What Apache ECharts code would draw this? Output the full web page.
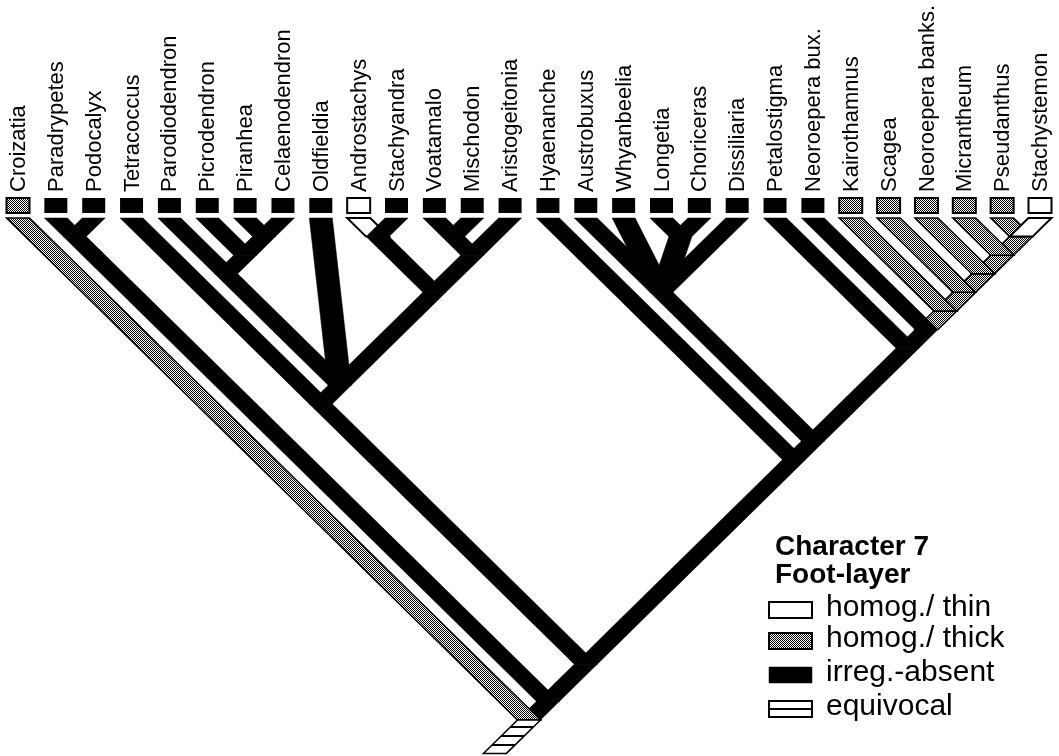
<!DOCTYPE html>
<html>
<head>
<meta charset="utf-8">
<title>Character 7 Foot-layer</title>
<script src="https://cdn.jsdelivr.net/npm/echarts@6/dist/echarts.min.js"></script>
<style>
html, body { margin: 0; padding: 0; background: #fff; }
#chart { width: 1059px; height: 756px; }
</style>
</head>
<body>
<div id="chart"></div>
<script>
// terminal taxa, left to right
const taxa = ['Croizatia', 'Paradrypetes', 'Podocalyx', 'Tetracoccus', 'Parodiodendron', 'Picrodendron',
    'Piranhea', 'Celaenodendron', 'Oldfieldia', 'Androstachys', 'Stachyandra', 'Voatamalo', 'Mischodon',
    'Aristogeitonia', 'Hyaenanche', 'Austrobuxus', 'Whyanbeelia', 'Longetia', 'Choriceras', 'Dissiliaria',
    'Petalostigma', 'Neoroepera bux.', 'Kairothamnus', 'Scagea', 'Neoroepera banks.', 'Micrantheum',
    'Pseudanthus', 'Stachystemon'];

// character states: 0 homog./thin, 1 homog./thick, 2 irreg.-absent, 3 equivocal
const stateNames = ['homog./ thin', 'homog./ thick', 'irreg.-absent', 'equivocal'];
const tipState = [1, 2, 2, 2, 2, 2, 2, 2, 2, 0, 2, 2, 2, 2, 2, 2, 2, 2, 2, 2, 2, 2, 1, 1, 1, 1, 1, 0];
const tipParent = ['Root', 'PP', 'PP', 'LB', 'PD', 'PC3', 'PC2', 'PC2', 'Q', 'AS', 'AS', 'VM', 'VM', 'VMA',
    'RB', 'AWLCD', 'AWLCD', 'LC', 'LC', 'AWLCD', 'PT', 'NB', 'G', 'SC', 'NK', 'MI', 'PS', 'PS'];

// internal nodes: x in tip units, depth below the tips in the same units
const nodeNames  = ['Root', 'M2', 'PP', 'M1', 'LB', 'Q', 'PD', 'PC3', 'PC2', 'ASVMA', 'AS', 'VMA', 'VM',
    'RB', 'I', 'AWLCD', 'LC', 'PT', 'NB', 'G', 'SC', 'NK', 'MI', 'PS'];
const nodeX      = [13.5, 14, 1.5, 15, 8, 8.5, 5.5, 6, 6.5, 11, 9.5, 12, 11.5,
    20.5, 21, 17, 17.5, 23.5, 24, 24.5, 25, 25.5, 26, 26.5];
const nodeDepth  = [13.5, 13, 0.5, 12, 5, 4.5, 1.5, 1, 0.5, 2, 0.5, 1, 0.5,
    6.5, 6, 2, 0.5, 3.5, 3, 2.5, 2, 1.5, 1, 0.5];
const nodeParent = [null, 'Root', 'M2', 'M2', 'M1', 'LB', 'Q', 'PD', 'PC3', 'Q', 'ASVMA', 'ASVMA', 'VMA',
    'M1', 'RB', 'I', 'AWLCD', 'I', 'PT', 'NB', 'G', 'SC', 'NK', 'MI'];
const nodeState  = [3, 2, 2, 2, 2, 2, 2, 2, 2, 2, 2, 2, 2,
    2, 2, 2, 2, 2, 2, 1, 1, 1, 1, 1];

// lower end of the root stem
const rootStem = [12.6, 14.4];

function makePattern(w, h, draw) {
    const c = document.createElement('canvas');
    c.width = w;
    c.height = h;
    const ctx = c.getContext('2d');
    ctx.fillStyle = '#fff';
    ctx.fillRect(0, 0, w, h);
    ctx.fillStyle = '#000';
    draw(ctx);
    return { image: c, repeat: 'repeat' };
}
const dots = makePattern(2, 2, ctx => { ctx.fillRect(0, 0, 1, 1); ctx.fillRect(1, 1, 1, 1); });
const hatch = makePattern(1, 9, ctx => { ctx.fillRect(0, 6, 1, 2); });

function stateStyle(s) {
    if (s === 0) return { fill: '#fff', stroke: '#000', lineWidth: 2 };
    if (s === 1) return { fill: dots, stroke: '#000', lineWidth: 1.5 };
    if (s === 3) return { fill: hatch, stroke: '#000', lineWidth: 1.5 };
    return { fill: '#000', stroke: '#000', lineWidth: 0.5 };
}

// build the branch list (child end, parent end, state)
const pos = {};
nodeNames.forEach((n, i) => { pos[n] = [nodeX[i], nodeDepth[i]]; });
const branches = [];
taxa.forEach((t, i) => {
    const p = pos[tipParent[i]];
    branches.push([i, 0, p[0], p[1], tipState[i]]);
});
nodeNames.forEach((n, i) => {
    if (nodeParent[i]) {
        const p = pos[nodeParent[i]];
        branches.push([nodeX[i], nodeDepth[i], p[0], p[1], nodeState[i]]);
    }
});
// deeper branches first so the upper ones sit on top
branches.sort((a, b) => b[1] - a[1]);
branches.push([nodeX[0], nodeDepth[0], rootStem[0], rootStem[1], nodeState[0]]);

const HALF = 11.5;
const labelFont = '22px "Liberation Sans", Arial, sans-serif';

const chart = echarts.init(document.getElementById('chart'));
chart.setOption({
    animation: false,
    backgroundColor: '#fff',
    grid: { left: 18, right: 19, top: 218, bottom: 2.6, outerBoundsMode: 'none' },
    xAxis: { type: 'value', min: 0, max: 27, show: false },
    yAxis: { type: 'value', min: 0, max: 14.4, inverse: true, show: false },
    series: [
        {
            type: 'custom',
            name: 'branches',
            data: branches,
            renderItem: (params, api) => {
                const top = api.coord([api.value(0), api.value(1)]);
                const bot = api.coord([api.value(2), api.value(3)]);
                return {
                    type: 'polygon',
                    shape: {
                        points: [[top[0] - HALF, top[1]], [top[0] + HALF, top[1]],
                                 [bot[0] + HALF, bot[1]], [bot[0] - HALF, bot[1]]]
                    },
                    style: stateStyle(api.value(4))
                };
            }
        },
        {
            type: 'custom',
            name: 'tips',
            data: tipState.map((s, i) => [i, 0, s]),
            renderItem: (params, api) => {
                const c = api.coord([api.value(0), api.value(1)]);
                const s = api.value(2);
                const st = stateStyle(s);
                st.lineWidth = s === 2 ? 0 : 2;
                return {
                    type: 'group',
                    children: [
                        {
                            type: 'rect',
                            shape: { x: c[0] - HALF, y: c[1] - 20, width: 23, height: 15 },
                            style: st
                        },
                        {
                            type: 'text',
                            x: c[0] + 1,
                            y: c[1] - 26,
                            rotation: Math.PI / 2,
                            style: {
                                text: taxa[params.dataIndex], font: labelFont, fill: '#000',
                                textAlign: 'left', textVerticalAlign: 'middle',
                                align: 'left', verticalAlign: 'middle'
                            }
                        }
                    ]
                };
            }
        }
    ],
    graphic: [
        {
            type: 'text', x: 775, y: 547,
            style: { text: 'Character 7', font: 'bold 28px "Liberation Sans", Arial, sans-serif', fill: '#000', textVerticalAlign: 'middle' }
        },
        {
            type: 'text', x: 775, y: 575,
            style: { text: 'Foot-layer', font: 'bold 28px "Liberation Sans", Arial, sans-serif', fill: '#000', textVerticalAlign: 'middle' }
        }
    ].concat(stateNames.map((name, i) => {
        const cy = [610, 641, 675, 709][i];
        const box = [{
            type: 'rect',
            shape: { x: 769, y: cy - 8, width: 43, height: 16 },
            style: stateStyle(i)
        }];
        if (i === 3) {
            box[0].style = { fill: '#fff', stroke: '#000', lineWidth: 2 };
            box.push({
                type: 'line',
                shape: { x1: 769, y1: cy, x2: 812, y2: cy },
                style: { stroke: '#000', lineWidth: 2 }
            });
        } else if (i !== 2) {
            box[0].style.lineWidth = 2;
        }
        box.push({
            type: 'text', x: 826, y: cy - 2,
            style: { text: name, font: '30px "Liberation Sans", Arial, sans-serif', fill: '#000', textVerticalAlign: 'middle' }
        });
        return box;
    }).flat())
});
</script>
</body>
</html>
